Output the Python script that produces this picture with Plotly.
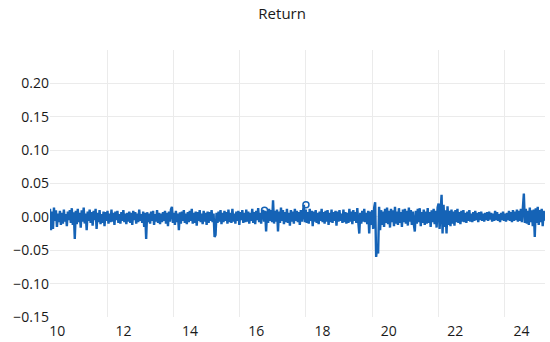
import numpy as np
import plotly.graph_objects as go

# Daily return series (units of 0.001)
ret_milli = [
    12,-20,8,-18,14,-6,10,-15,5,-8,9,-12,6,-10,11,-7,4,-14,8,-5,
    10,-9,13,-12,7,-33,9,-11,12,-8,6,-16,10,-7,14,-10,5,-20,8,-6,
    11,-9,7,-13,9,-5,12,-18,6,-8,10,-11,4,-9,8,-14,7,-6,9,-10,
    5,-8,11,-7,6,-12,8,-5,9,-9,4,-10,7,-6,10,-8,5,-11,6,-7,
    8,-9,6,-12,9,-5,7,-10,5,-8,11,-6,4,-9,8,-15,6,-33,7,-8,
    5,-10,8,-6,9,-12,4,-7,10,-9,6,-11,5,-8,7,-6,9,-10,6,-14,
    8,-7,11,15,-9,6,-12,9,-8,5,-20,7,-10,8,-6,10,-9,5,-11,7,
    -8,9,-6,12,-10,6,-9,8,-13,7,-6,10,-8,5,-11,9,-7,6,-12,8,
    -9,7,-6,10,-8,5,-30,-27,6,-9,8,-7,10,-11,6,-8,9,-6,7,-10,
    11,-8,6,-9,12,-7,5,-10,8,-6,9,-12,7,-5,10,-9,6,-8,11,-7,
    8,-10,6,-6,12,-9,7,-11,9,-5,13,-8,6,-10,8,10,-7,9,-22,8,
    -9,12,-6,10,-8,25,-10,9,-7,11,-22,8,-9,14,-6,10,-11,7,-8,12,
    -9,6,-13,10,-7,8,-10,12,-6,9,-8,7,-12,10,-7,9,18,-8,11,-9,
    7,-10,12,-6,9,-14,8,-7,10,-9,6,-11,8,-6,12,-8,7,-10,9,-7,
    10,-12,6,-8,11,-9,7,-6,9,-13,8,-7,10,-6,5,-9,11,-8,7,-10,
    6,-9,12,-7,8,-11,10,-6,7,-9,13,-8,-25,6,-10,9,-7,12,-8,6,
    -11,9,-25,8,-12,10,-18,14,22,-60,-45,-55,15,-20,10,-12,8,-15,12,-9,
    14,-11,9,-16,12,-8,10,-14,15,-10,8,-12,13,-9,7,-15,11,-8,12,-10,
    9,-13,14,-7,10,-12,8,-11,-22,9,-10,12,-8,13,-14,7,-9,11,-12,8,
    -10,13,-9,7,-15,10,-8,12,-11,9,-16,14,20,-18,15,33,-25,18,-15,10,
    -25,16,-12,9,-14,11,-10,8,-13,10,-8,12,-9,7,-11,9,-7,10,-8,6,
    -9,8,-6,10,-7,5,-8,7,-6,9,-5,6,-8,7,-5,8,-6,5,-7,6,
    -5,7,-6,8,-4,6,-7,5,-6,9,-5,7,-6,4,-8,6,-5,8,-6,5,
    -7,6,-5,9,-6,7,-8,10,-6,8,-5,11,-7,9,-6,12,-8,10,35,-9,
    12,-10,9,-12,14,-8,10,-14,11,-30,13,-9,15,-12,10,-8,12,-14,9,-6,
]
x_start = 10.28
x_end = 25.2

# isolated observations drawn as hollow circles
circle_x = [16.75, 18.0]
circle_y = [0.010, 0.018]

tick_labels = ["10", "12", "14", "16", "18", "20", "22", "24"]
tick_years = [10, 12, 14, 16, 18, 20, 22, 24]

y_ticks = [-0.15, -0.10, -0.05, 0.00, 0.05, 0.10, 0.15, 0.20]

returns = np.array(ret_milli) / 1000.0
x = np.linspace(x_start, x_end, len(returns))

color = "#1563b6"
fig = go.Figure()
fig.add_trace(go.Scatter(x=x, y=returns, mode="lines",
                         line=dict(color=color, width=2.4), showlegend=False))
fig.add_trace(go.Scatter(x=circle_x, y=circle_y, mode="markers",
                         marker=dict(symbol="circle-open", size=6, color=color,
                                     line=dict(width=1.5, color=color)),
                         showlegend=False))

fig.update_layout(
    width=550, height=342,
    margin=dict(l=50, r=5, t=50, b=25, autoexpand=False),
    paper_bgcolor="white", plot_bgcolor="white",
    font=dict(family="Open Sans", size=14, color="#1a1a1a"),
    title=dict(text="Return", x=0.513, xanchor="center", y=0.96, yanchor="middle",
               font=dict(size=15, color="#1a1a1a")),
)
fig.update_xaxes(
    automargin=False,
    range=[x_start, x_end + 0.01],
    tickvals=[t + 0.5 for t in tick_years], ticktext=tick_labels,
    showgrid=False, zeroline=False, showline=False, ticks="",
    ticklabelstandoff=4,
    minor=dict(tick0=10, dtick=2, showgrid=True, gridcolor="#ebebeb", gridwidth=1),
)
fig.update_yaxes(
    automargin=False,
    range=[-0.15, 0.25],
    tickvals=y_ticks, tickformat=".2f",
    showgrid=True, gridcolor="#ebebeb", zeroline=False, showline=False, ticks="",
)

fig.write_html("out.html", config={"displayModeBar": False},
               post_script="document.body.style.margin='0';document.body.style.overflow='hidden';")
